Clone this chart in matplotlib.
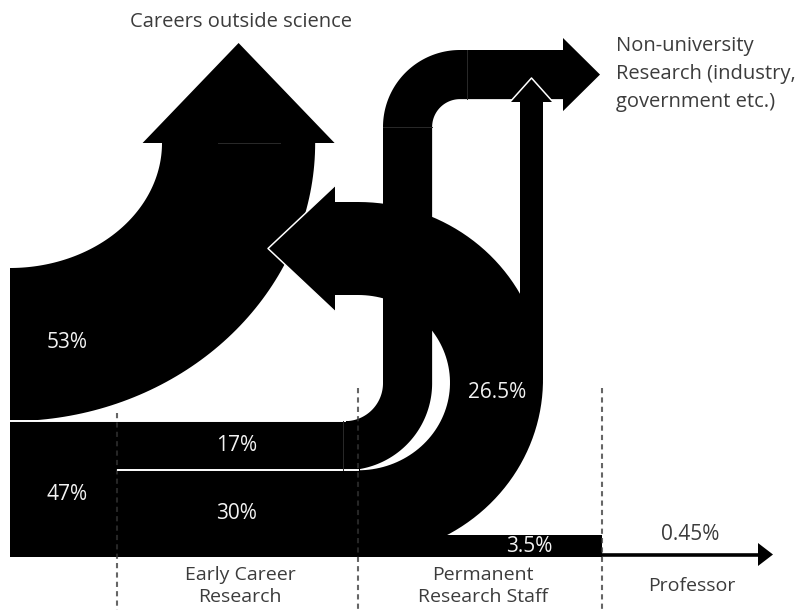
import numpy as np
import matplotlib.pyplot as plt
from matplotlib.patches import Polygon

plt.rcParams['font.family'] = ['Open Sans', 'DejaVu Sans']

# flows (% of PhD graduates)
phd_split = [53, 47]          # leave science / stay in research
early_split = [17, 30]        # non-university research / permanent staff
perm_split = [26.5, 3.5]      # leave / stay
prof_share = 0.45

phd_labels = ['53%', '47%']
early_labels = ['17%', '30%']
perm_labels = ['26.5%', '3.5%']
prof_label = '0.45%'

stages = ['Early Career\nResearch', 'Permanent\nResearch Staff', 'Professor']
destinations = ['Careers outside science',
                'Non-university\nResearch (industry,\ngovernment etc.)']

TXT = '#3c3c3c'
WHITE_TXT = '#f2f2f2'


def arc(cx, cy, rx, ry, t0, t1, n=80):
    t = np.radians(np.linspace(t0, t1, n))
    return np.column_stack([cx + rx * np.cos(t), cy + ry * np.sin(t)])


def blob(ax, parts, z=2):
    pts = np.vstack([np.asarray(p, dtype=float) for p in parts])
    ax.add_patch(Polygon(pts, closed=True, fc='black', ec='none', zorder=z))


fig = plt.figure(figsize=(8.04, 6.10), dpi=100)
ax = fig.add_axes([0, 0, 1, 1])
ax.set_xlim(0, 804)
ax.set_ylim(610, 0)
ax.axis('off')

# layout (pixels)
x0, y_top, y_bot = 10, 268, 557
s = (y_bot - y_top) / 100.0
y1 = y_top + phd_split[0] * s
y2 = y1 + early_split[0] * s

# stage boundaries
for xd, yd in [(117, 413), (358, 388), (602, 388)]:
    ax.plot([xd, xd], [yd, 610], color='#333333', alpha=0.75, lw=1.5,
            ls=(0, (2.5, 2)), zorder=5)

# 53% -> careers outside science
base = 143
sh_l = 162
sh_r = sh_l + phd_split[0] * s
mid = (sh_l + sh_r) / 2
blob(ax, [arc(x0, base, sh_l - x0, y_top - base, 90, 0),
          [(sh_l, base), (mid - 96, base), (mid, 43), (mid + 96, base), (sh_r, base)],
          arc(x0, base, sh_r - x0, y1 - base, 0, 90)])

# 47% block in first column
blob(ax, [[(x0, y1), (360, y1), (360, y_bot), (x0, y_bot)]])

# 17% -> non-university research
xs_l = 383
xs_r = xs_l + early_split[0] * s
r_in = 38
c1x, c1y = xs_l - r_in, y1 - r_in
c2x, c2y = 460, 127
top = 50
r2o = c2x - xs_l
r2i = c2x - xs_r
arm_b = c2y - r2i
hx, htip = 563, 600
hmid = (top + arm_b) / 2
blob(ax, [[(x0, y1)],
          arc(c1x, c1y, r_in, r_in, 90, 0),
          arc(c2x, c2y, r2o, c2y - top, 180, 270),
          [(hx, top), (hx, top - 12), (htip, hmid), (hx, arm_b + 12), (hx, arm_b)],
          arc(c2x, c2y, r2i, r2i, 270, 180),
          arc(c1x, c1y, r_in + xs_r - xs_l, y2 - c1y, 0, 90),
          [(x0, y2)]], z=3)

# 30% -> permanent staff, 26.5% turning back out of science
ux = 358
a_top, a_bot = 202, 295
uo_cy = (a_top + y_bot) / 2
ui_cy = (a_bot + y2) / 2
tip_y = (a_top + a_bot) / 2
ahx, atip = 335, 268
blob(ax, [[(340, y_bot)],
          arc(ux, uo_cy, 185, y_bot - uo_cy, 90, -90),
          [(ahx, a_top)], [(ahx, a_bot)],
          arc(ux, ui_cy, 92, y2 - ui_cy, -90, 90),
          [(340, y2)]])
blob(ax, [[(ahx, a_top), (ahx, tip_y - 63), (atip, tip_y), (ahx, tip_y + 63), (ahx, a_bot)]], z=4)
ax.plot([ahx, atip, ahx], [tip_y - 63, tip_y, tip_y + 63], color='white', lw=1.1, zorder=4)

# thin arrow up to non-university research
tx_l, tx_r = 520, 543
tmid = (tx_l + tx_r) / 2
blob(ax, [[(tx_l, 380), (tx_l, 102), (tx_r, 102), (tx_r, 380)]], z=4)
blob(ax, [[(tx_l - 10, 102), (tmid, 78), (tx_r + 10, 102)]], z=4)
ax.plot([tx_l - 10, tmid, tx_r + 10], [102, 78, 102], color='white', lw=1.1, zorder=4)

# 3.5% staying, 0.45% reaching professor
blob(ax, [[(ux, 535), (602, 535), (602, y_bot), (ux, y_bot)]])
ax.plot([602, 762], [554.5, 554.5], color='black', lw=2.6, solid_capstyle='butt', zorder=4)
blob(ax, [[(758, 543), (773, 554.5), (758, 566)]], z=4)

# white dividers and faint seams
ax.plot([x0, c1x], [y1, y1], color='white', lw=1.4, zorder=6)
ax.plot([118, ux], [y2, y2], color='white', lw=1.4, zorder=6)
for xs, ys in [([467, 467], [top, arm_b]), ([xs_l, xs_r], [c2y, c2y]),
               ([343, 343], [y1, y2]), ([218, 280], [base, base])]:
    ax.plot(xs, ys, color='#2a2a2a', lw=0.7, zorder=6)

# text
FS, FP = 14.5, 15
ax.text(241, 22, destinations[0], ha='center', va='center', fontsize=FS, color=TXT)
ax.text(616, 74, destinations[1], ha='left', va='center', fontsize=FS,
        color=TXT, linespacing=1.5)

ax.text(67, 343, phd_labels[0], ha='center', va='center', fontsize=FP, color=WHITE_TXT, zorder=7)
ax.text(67, 495, phd_labels[1], ha='center', va='center', fontsize=FP, color=WHITE_TXT, zorder=7)
ax.text(237, (y1 + y2) / 2, early_labels[0], ha='center', va='center', fontsize=FP, color=WHITE_TXT, zorder=7)
ax.text(237, (y2 + y_bot) / 2, early_labels[1], ha='center', va='center', fontsize=FP, color=WHITE_TXT, zorder=7)
ax.text(497, 392, perm_labels[0], ha='center', va='center', fontsize=FP, color=WHITE_TXT, zorder=7)
ax.text(529, 546, perm_labels[1], ha='center', va='center', fontsize=FP, color=WHITE_TXT, zorder=7)
ax.text(690, 534, prof_label, ha='center', va='center', fontsize=FP, color=TXT, zorder=7)

for x, lab in zip([240, 483, 692], stages):
    ax.text(x, 586, lab, ha='center', va='center', fontsize=14, color=TXT, linespacing=1.3)

fig.savefig('out.png', dpi=100)
